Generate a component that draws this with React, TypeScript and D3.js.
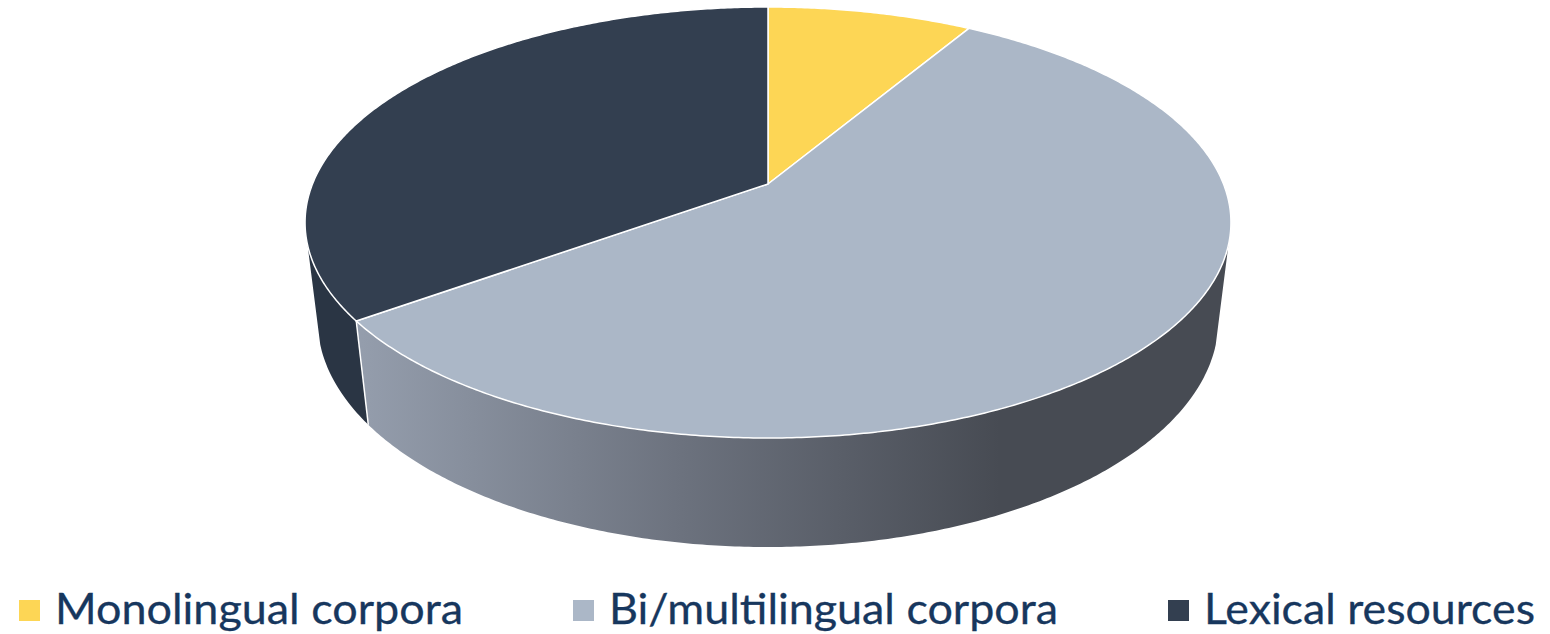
import React from "react";
import * as d3 from "d3";

const categories = ["Monolingual corpora", "Bi/multilingual corpora", "Lexical resources"];
const shares = [8.5, 56.5, 35.0];
const topColors = ["#FDD655", "#ABB7C7", "#333F50"];
const legendSwatchX = [19, 573, 1168];
const legendTextX = [55, 609, 1204];
const legendTextW = [408, 449, 331];
const textColor = "#17375E";

const WIDTH = 1550;
const HEIGHT = 634;

// Perspective camera fitted to the picture: unit disc (u right, v back, drop 0..1)
const CX = 768, APEX_Y = 184, SX = 455.5, SV = -175.75, PERSP = 0.1787, DROP_W = 0.027, DROP_Y = 104.3;
const project = (angle: number, drop: number): [number, number] => {
  const u = Math.sin(angle), v = Math.cos(angle);
  const w = 1 + PERSP * v + DROP_W * drop;
  return [CX + (SX * u) / w, (APEX_Y + SV * v + DROP_Y * drop) / w];
};
const apex: [number, number] = [CX, APEX_Y];

const deg = (d: number) => (d * Math.PI) / 180;
const SIL_RIGHT = deg(106.1);
const SIL_LEFT = deg(253.9);

const arcPts = (a0: number, a1: number, drop: number) => {
  const n = Math.max(2, Math.ceil(Math.abs(a1 - a0) / deg(0.5)));
  return d3.range(n + 1).map((i) => project(a0 + ((a1 - a0) * i) / n, drop));
};
const line = d3.line<[number, number]>();

export default function App() {
  const pie = d3.pie<number>().sort(null).startAngle(0).endAngle(2 * Math.PI);
  const arcs = pie(shares);
  const split = arcs[2].startAngle;

  const wallPath = (a0: number, a1: number) =>
    line([...arcPts(a0, a1, 0), ...arcPts(a1, a0, 1)])! + "Z";

  return (
    <svg width={WIDTH} height={HEIGHT} style={{ position: "absolute", left: 0, top: 0, display: "block", background: "#fff" }}>
      <defs>
        <linearGradient id="wall" gradientUnits="userSpaceOnUse" x1={362} x2={1000} y1={0} y2={0}>
          <stop offset="0" stopColor="#949DAC" />
          <stop offset="0.5" stopColor="#6C727E" />
          <stop offset="1" stopColor="#474B53" />
        </linearGradient>
      </defs>
      <path d={wallPath(SIL_RIGHT, split)} fill="url(#wall)" />
      <path d={wallPath(split, SIL_LEFT)} fill="#2A3544" />
      <path d={line([project(split, 0), project(split, 1)])!} stroke="#fff" strokeWidth={1.5} fill="none" />
      {arcs.map((a, i) => (
        <path
          key={categories[i]}
          d={line([apex, ...arcPts(a.startAngle, a.endAngle, 0)])! + "Z"}
          fill={topColors[i]}
          stroke="#fff"
          strokeWidth={1.5}
          strokeLinejoin="round"
        />
      ))}
      {categories.map((c, i) => (
        <g key={c}>
          <rect x={legendSwatchX[i]} y={600} width={21} height={21} fill={topColors[i]} />
          <text
            x={legendTextX[i]}
            y={624}
            fontFamily="Lato, 'Open Sans', sans-serif"
            fontSize={43}
            fill={textColor}
            stroke={textColor}
            strokeWidth={0.3}
            textLength={legendTextW[i]}
            lengthAdjust="spacingAndGlyphs"
          >
            {c}
          </text>
        </g>
      ))}
    </svg>
  );
}
